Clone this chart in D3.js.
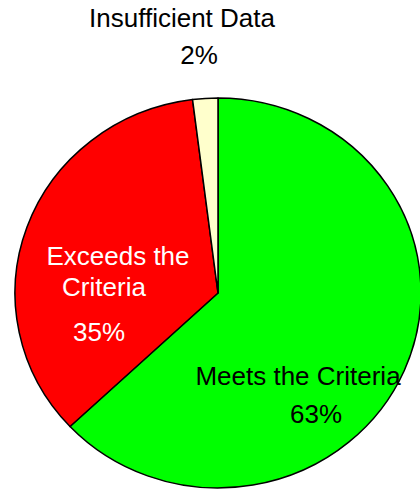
<!DOCTYPE html>
<html>
<head>
<meta charset="utf-8">
<script src="https://cdn.jsdelivr.net/npm/d3@7"></script>
<style>
  html, body { margin: 0; padding: 0; background: #fff; }
  svg { display: block; font-family: Arial, "Liberation Sans", sans-serif; }
</style>
</head>
<body>
<svg id="chart" width="420" height="490"></svg>
<script>
// Share of assessed units by outcome, drawn clockwise from 12 o'clock
const categories = ["Meets the Criteria", "Exceeds the Criteria", "Insufficient Data"];
const values = [63, 35, 2];
const colors = ["#00ff00", "#ff0000", "#ffffcc"];

const svg = d3.select("#chart");
const W = 420, H = 490;

// Pie geometry: slightly flattened ellipse
const cx = 218, cy = 293, rx = 203, ry = 195;

const pie = d3.pie().sort(null).value(d => d.value);
const arcs = pie(categories.map((c, i) => ({ name: c, value: values[i], color: colors[i] })));
const arc = d3.arc().innerRadius(0).outerRadius(rx);

const g = svg.append("g")
  .attr("transform", `translate(${cx},${cy}) scale(1,${ry / rx})`);

g.selectAll("path")
  .data(arcs)
  .join("path")
  .attr("d", arc)
  .attr("fill", d => d.data.color)
  .attr("stroke", "#000")
  .attr("stroke-width", 1.5)
  .attr("stroke-linejoin", "round")
  .attr("vector-effect", "non-scaling-stroke");

// Slice labels: name lines then percentage
const fmt = v => `${v}%`;
const labels = [
  { i: 0, lines: [{ t: categories[0], x: 298, y: 385 }], pct: { x: 316, y: 423 }, fill: "#000" },
  { i: 1, lines: [{ t: "Exceeds the", x: 118, y: 265 }, { t: "Criteria", x: 104, y: 296 }], pct: { x: 99, y: 341 }, fill: "#fff" },
  { i: 2, lines: [{ t: categories[2], x: 182, y: 27 }], pct: { x: 199, y: 64 }, fill: "#000" }
];

labels.forEach(l => {
  const lg = svg.append("g").attr("fill", l.fill).attr("font-size", 26).attr("text-anchor", "middle");
  l.lines.forEach(s => lg.append("text").attr("x", s.x).attr("y", s.y).text(s.t));
  lg.append("text").attr("x", l.pct.x).attr("y", l.pct.y).text(fmt(values[l.i]));
});
</script>
</body>
</html>
